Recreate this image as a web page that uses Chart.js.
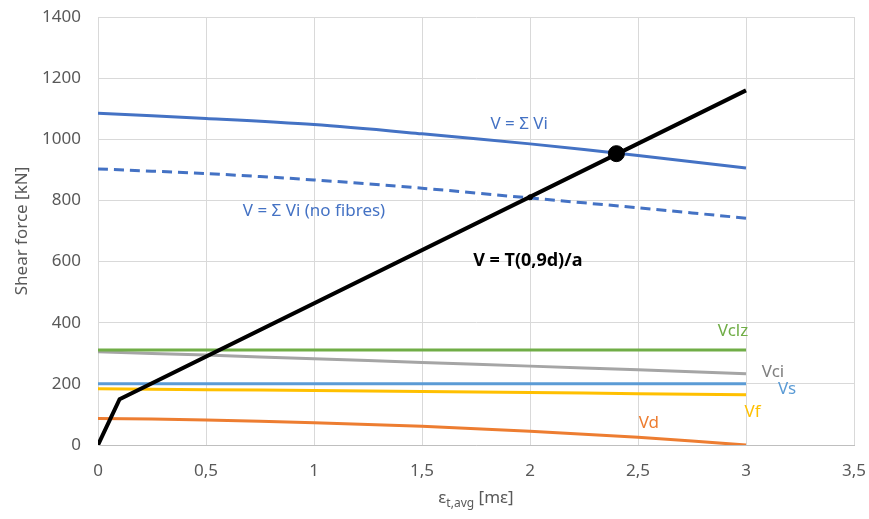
<!DOCTYPE html>
<html><head><meta charset="utf-8">
<script src="https://cdn.jsdelivr.net/npm/chart.js@4"></script>
<style>
html,body{margin:0;padding:0;background:#fff}
#wrap{position:relative;width:869px;height:519px}
.lbl{position:absolute;transform:translate(-50%,-50%);font-family:"Noto Sans",sans-serif;font-size:17px;white-space:nowrap;line-height:1}
#xtitle{position:absolute;transform:translate(-50%,-50%);font-family:"Noto Sans",sans-serif;font-size:17px;color:#595959;white-space:nowrap}
#xtitle sub{font-size:12px}
</style></head><body>
<div id="wrap"><canvas id="c" width="869" height="519"></canvas>
<div id="xtitle">ε<sub>t,avg</sub> [mε]</div>
</div>
<script>
const strain = [0, 0.5, 1, 1.5, 2, 2.5, 3];
const vTotal = [1085, 1068, 1048, 1018, 985, 947, 906];
const vNoFibres = [903, 888, 867, 840, 808, 776, 742];
const vClz = [311, 311, 311, 311, 311, 311, 311];
const vCi = [305, 294, 282, 270, 258, 246, 233];
const vS = [200, 200, 200, 200, 200, 200, 200];
const vF = [184, 181, 178, 175, 172, 168, 164];
const vD = [87, 82, 73, 61, 45, 25, 0];
const tStrain = [0, 0.1, 3];
const tValues = [0, 150, 1160];
const intersectStrain = [2.4];
const intersectValue = [953];
const minorStrain = [2.0];
const minorValue = [810];

const labels = [
  {text:"V = Σ Vi", x:1.95, y:1057, color:"#4472C4"},
  {text:"V = Σ Vi (no fibres)", x:1.0, y:772, color:"#4472C4"},
  {text:"V = T(0,9d)/a", x:1.99, y:608, color:"#000000", bold:true},
  {text:"Vclz", x:2.94, y:379, color:"#70AD47"},
  {text:"Vci", x:3.125, y:245, color:"#7F7F7F"},
  {text:"Vs", x:3.19, y:190, color:"#5B9BD5"},
  {text:"Vf", x:3.03, y:114, color:"#FFC000"},
  {text:"Vd", x:2.55, y:78, color:"#ED7D31"}
];

const pts = (xs, ys) => xs.map((x, i) => ({x, y: ys[i]}));
const line = (data, color, extra) => Object.assign({data, borderColor: color, backgroundColor: color, borderWidth: 3, pointRadius: 0, fill: false, tension: 0.3, showLine: true}, extra || {});

const wrap = document.getElementById('wrap');
const labelEls = labels.map(l => {
  const d = document.createElement('div');
  d.className = 'lbl';
  d.textContent = l.text;
  d.style.color = l.color;
  if (l.bold) { d.style.fontWeight = 'bold'; d.style.fontSize = '18px'; }
  wrap.appendChild(d);
  return d;
});

const placer = {
  id: 'placer',
  afterRender(chart) {
    const xs = chart.scales.x, ys = chart.scales.y;
    labels.forEach((l, i) => {
      labelEls[i].style.left = xs.getPixelForValue(l.x) + 'px';
      labelEls[i].style.top = ys.getPixelForValue(l.y) + 'px';
    });
    const xt = document.getElementById('xtitle');
    xt.style.left = ((chart.chartArea.left + chart.chartArea.right) / 2) + 'px';
    xt.style.top = '498px';
  }
};

new Chart(document.getElementById('c'), {
  type: 'scatter',
  data: {
    datasets: [
      {data: pts(intersectStrain, intersectValue), pointRadius: 8, backgroundColor: '#000', borderColor: '#000', showLine: false},
      {data: pts(minorStrain, minorValue), pointRadius: 2.5, backgroundColor: '#000', borderColor: '#000', showLine: false},
      line(pts(tStrain, tValues), '#000000', {borderWidth: 4, tension: 0}),
      line(pts(strain, vTotal), '#4472C4'),
      line(pts(strain, vNoFibres), '#4472C4', {borderDash: [10, 6]}),
      line(pts(strain, vClz), '#70AD47'),
      line(pts(strain, vCi), '#A5A5A5'),
      line(pts(strain, vS), '#5B9BD5'),
      line(pts(strain, vF), '#FFC000'),
      line(pts(strain, vD), '#ED7D31')
    ]
  },
  options: {
    responsive: false,
    animation: false,
    layout: {padding: {top: 17, right: 15, left: 0, bottom: 0}},
    plugins: {legend: {display: false}, tooltip: {enabled: false}},
    scales: {
      x: {
        type: 'linear', min: 0, max: 3.5,
        ticks: {stepSize: 0.5, color: '#595959', font: {family: 'Noto Sans', size: 17}, padding: 0,
          callback: v => String(v).replace('.', ',')},
        grid: {color: '#D9D9D9', drawTicks: true, tickLength: 16, tickColor: 'rgba(0,0,0,0)', lineWidth: 1},
        border: {color: '#BFBFBF'},
        afterFit(s) { s.height = 74; }
      },
      y: {
        min: 0, max: 1400,
        ticks: {stepSize: 200, color: '#595959', font: {family: 'Noto Sans', size: 17}, padding: 0,
          callback: v => String(v)},
        grid: {color: '#D9D9D9', drawTicks: true, tickLength: 17, tickColor: 'rgba(0,0,0,0)', lineWidth: 1},
        border: {color: '#D9D9D9'},
        title: {display: true, text: 'Shear force [kN]', color: '#595959', font: {family: 'Noto Sans', size: 17}, padding: {top: 12, bottom: 0}},
        afterFit(s) { s.width = 98; }
      }
    }
  },
  plugins: [placer]
});
</script>
</body></html>
